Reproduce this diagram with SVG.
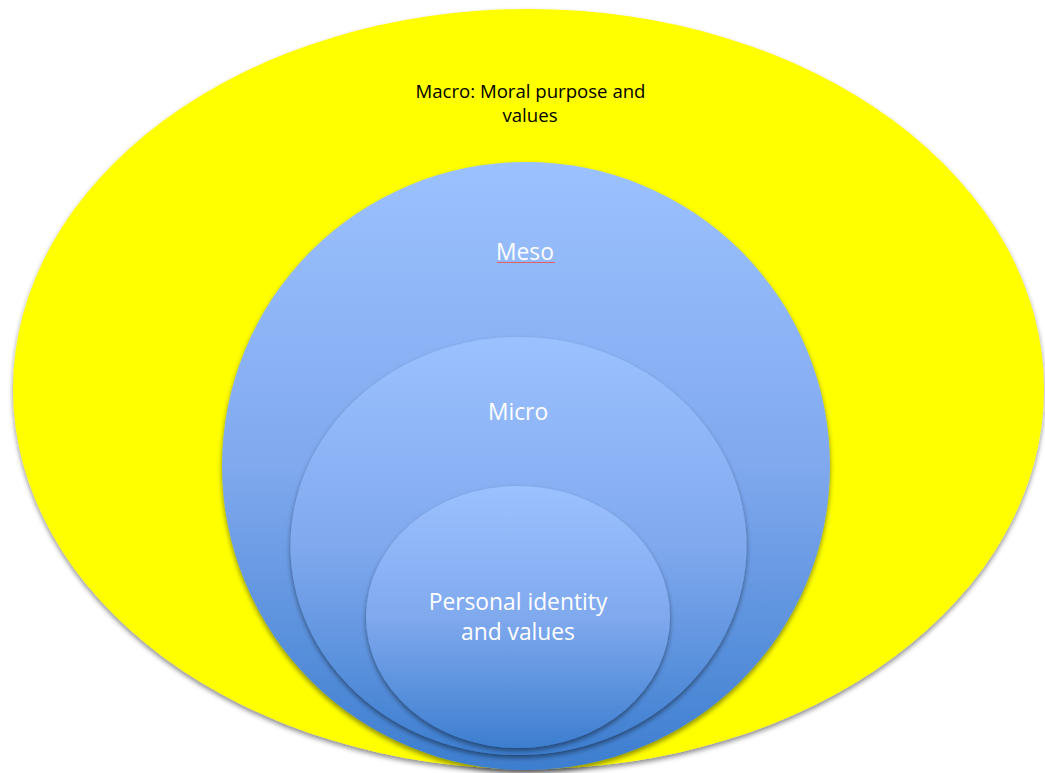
<svg xmlns="http://www.w3.org/2000/svg" width="1045" height="773" viewBox="0 0 1045 773">
<defs>
<linearGradient id="blue" x1="0" y1="0" x2="0" y2="1">
<stop offset="0" stop-color="#9CC1FF"/>
<stop offset="0.5" stop-color="#80A9EE"/>
<stop offset="1" stop-color="#3D7ECF"/>
</linearGradient>
<filter id="sh" x="-10%" y="-10%" width="120%" height="125%">
<feGaussianBlur in="SourceAlpha" stdDeviation="2.5"/>
<feOffset dx="0" dy="3" result="b"/>
<feFlood flood-color="#000" flood-opacity="0.45"/>
<feComposite in2="b" operator="in"/>
<feMerge><feMergeNode/><feMergeNode in="SourceGraphic"/></feMerge>
</filter>
<style>
.lbl{font-family:"Open Sans","Liberation Sans",sans-serif;text-anchor:middle}
.w{fill:#FFFFFF;font-size:22.8px}
.k{fill:#000000;font-size:18.6px}
</style>
</defs>
<rect width="1045" height="773" fill="#FFFFFF"/>
<g id="macro">
<ellipse cx="528.5" cy="389" rx="515.5" ry="380" fill="#FFFF00" filter="url(#sh)"/>
<text class="lbl k" x="530.5" y="98">Macro: Moral purpose and</text>
<text class="lbl k" x="530" y="122">values</text>
</g>
<g id="meso">
<circle cx="526" cy="466" r="304" fill="url(#blue)" filter="url(#sh)"/>
<text class="lbl w" x="525" y="260">Meso</text>
<path d="M497 262.5 L555 262.5" stroke="#E06060" stroke-width="1"/>
</g>
<g id="micro">
<ellipse cx="518.5" cy="546" rx="228" ry="209" fill="url(#blue)" filter="url(#sh)"/>
<text class="lbl w" x="518" y="420">Micro</text>
</g>
<g id="personal">
<ellipse cx="518" cy="617" rx="152" ry="131" fill="url(#blue)" filter="url(#sh)"/>
<text class="lbl w" x="518" y="610">Personal identity</text>
<text class="lbl w" x="518" y="640">and values</text>
</g>
<g id="connectors"/>
</svg>
